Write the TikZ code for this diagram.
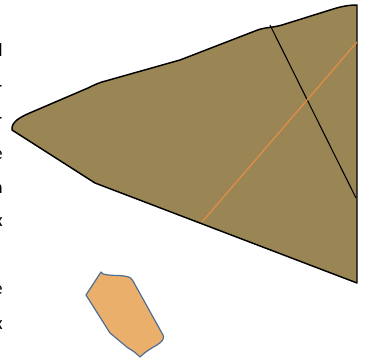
\documentclass[tikz,border=0pt]{standalone}
\usepackage{fontspec}
\setmainfont{Carlito}

\begin{document}
\begin{tikzpicture}[
  x=0.75pt, y=-0.75pt,
  land/.style={fill={rgb,255:red,154;green,134;blue,84}, draw=black, line width=1.1pt, line join=round},
  patch/.style={fill={rgb,255:red,235;green,175;blue,108}, draw={rgb,255:red,78;green,110;blue,148}, line width=0.9pt, line join=round},
  crossline/.style={draw=black, line width=0.8pt},
  diagline/.style={draw={rgb,255:red,230;green,140;blue,70}, line width=0.9pt},
  edgetext/.style={anchor=east, inner sep=0pt, font=\fontsize{14}{16}\selectfont}
]
\useasboundingbox (0,0) rectangle (367,360);
\clip (0,0) rectangle (367,360);

% clipped text on the left margin
\node[edgetext] (t1) at (3,50) {d};
\node[edgetext] (t2) at (2.5,90) {r};
\node[edgetext] (t3) at (2.5,122) {r};
\node[edgetext] (t4) at (3,155) {e};
\node[edgetext] (t5) at (3,187) {h};
\node[edgetext] (t6) at (3,222) {x};
\node[edgetext] (t7) at (3,290) {e};
\node[edgetext] (t8) at (3,325) {x};

% main shape
\filldraw[land] (357,5) -- (357,283) -- (95,183) -- (12,130)
  .. controls (11,122) and (20,117) .. (32,112) -- (88,88)
  .. controls (94,85) and (96,84) .. (102,82) -- (180,60) -- (255,31)
  .. controls (264,27) and (272,28) .. (282,25) -- (330,10)
  .. controls (342,6) and (350,5) .. (357,5) -- cycle;

% lines across it
\coordinate (ctop) at (270,25);
\coordinate (cbot) at (356,198);
\coordinate (dtop) at (357,42);
\coordinate (dbot) at (202,222);
\draw[crossline] (ctop) -- (cbot);
\draw[diagline] (dtop) -- (dbot);

% small patch
\filldraw[patch] (101,272) -- (103,274) .. controls (110,276) and (118,275) .. (124,276)
  .. controls (130,277) .. (133,281) -- (163,335) .. controls (165,338) and (162,342) .. (157,345)
  .. controls (150,349) and (145,352) .. (140,357) .. controls (136,353) and (132,350) .. (128,348)
  -- (110,333) -- (86,295) -- cycle;
\end{tikzpicture}
\end{document}
